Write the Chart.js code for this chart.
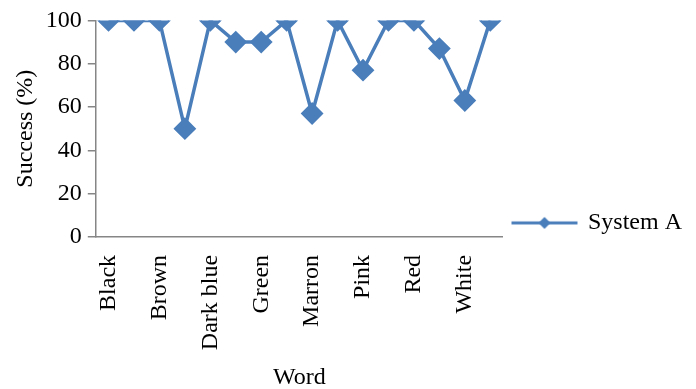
<!DOCTYPE html>
<html>
<head>
<meta charset="utf-8">
<script src="https://cdn.jsdelivr.net/npm/chart.js@4.4.0/dist/chart.umd.min.js"></script>
<style>
html, body { margin: 0; padding: 0; background: #fff; }
</style>
</head>
<body>
<canvas id="chart" width="696" height="389"></canvas>
<script>
// data (every other word label is hidden on the axis)
var words = ['Black', 'Blue', 'Brown', 'Cyan', 'Dark blue', 'Gray', 'Green', 'Light blue',
             'Marron', 'Orange', 'Pink', 'Purple', 'Red', 'Violet', 'White', 'Yellow'];
var successA = [100, 100, 100, 50, 100, 90, 90, 100, 57, 100, 77, 100, 100, 87, 63, 100];
var yTicks = [0, 20, 40, 60, 80, 100];
var seriesName = 'System A';

var blue = '#4a7ebb';
var axisGrey = '#868686';

Chart.defaults.font.family = "'Liberation Serif', 'Times New Roman', serif";
Chart.defaults.font.size = 24;
Chart.defaults.color = '#000';

// legend icon: line with a diamond in the middle (shifted a bit right inside the image)
function legendIcon() {
    var c = document.createElement('canvas');
    c.width = 82;
    c.height = 16;
    var g = c.getContext('2d');
    g.strokeStyle = blue;
    g.lineWidth = 3;
    g.beginPath();
    g.moveTo(12, 8);
    g.lineTo(78, 8);
    g.stroke();
    g.fillStyle = blue;
    g.beginPath();
    g.moveTo(45, 2);
    g.lineTo(51, 8);
    g.lineTo(45, 14);
    g.lineTo(39, 8);
    g.closePath();
    g.fill();
    return c;
}

var ctx = document.getElementById('chart').getContext('2d');
var chart = new Chart(ctx, {
    type: 'line',
    data: {
        labels: words,
        datasets: [{
            label: seriesName,
            data: successA,
            borderColor: blue,
            backgroundColor: blue,
            borderWidth: 3.5,
            tension: 0,
            pointStyle: 'rectRot',
            pointRadius: 10,
            pointHoverRadius: 10,
            pointBorderWidth: 2,
            pointBackgroundColor: blue,
            pointBorderColor: blue
        }]
    },
    options: {
        responsive: false,
        animation: false,
        layout: { padding: { top: 10, left: 11, right: 4, bottom: -3 } },
        plugins: {
            legend: {
                position: 'right',
                align: 'end',
                fullSize: false,
                maxWidth: 260,
                labels: {
                    usePointStyle: true,
                    pointStyleWidth: 71,
                    padding: 2,
                    generateLabels: function (ch) {
                        return [{
                            text: seriesName,
                            pointStyle: legendIcon(),
                            fillStyle: blue,
                            strokeStyle: blue,
                            lineWidth: 0,
                            datasetIndex: 0
                        }];
                    }
                }
            },
            tooltip: { enabled: false }
        },
        scales: {
            x: {
                offset: true,
                grid: { drawOnChartArea: false, drawTicks: false },
                border: { color: axisGrey, width: 1.5 },
                ticks: {
                    autoSkip: false,
                    minRotation: 90,
                    maxRotation: 90,
                    padding: 18,
                    callback: function (v, i) { return i % 2 === 0 ? words[i] : ''; }
                },
                title: { display: true, text: 'Word', padding: { top: -5, bottom: 0 } }
            },
            y: {
                min: 0,
                max: 100,
                afterBuildTicks: function (axis) {
                    axis.ticks = yTicks.map(function (v) { return { value: v }; });
                },
                grid: { drawOnChartArea: false, tickLength: 8, color: axisGrey, lineWidth: 1.5 },
                border: { color: axisGrey, width: 1.5 },
                ticks: { padding: 6 },
                title: { display: true, text: 'Success (%)', padding: { top: 0, bottom: 0 } }
            }
        }
    }
});
</script>
</body>
</html>
